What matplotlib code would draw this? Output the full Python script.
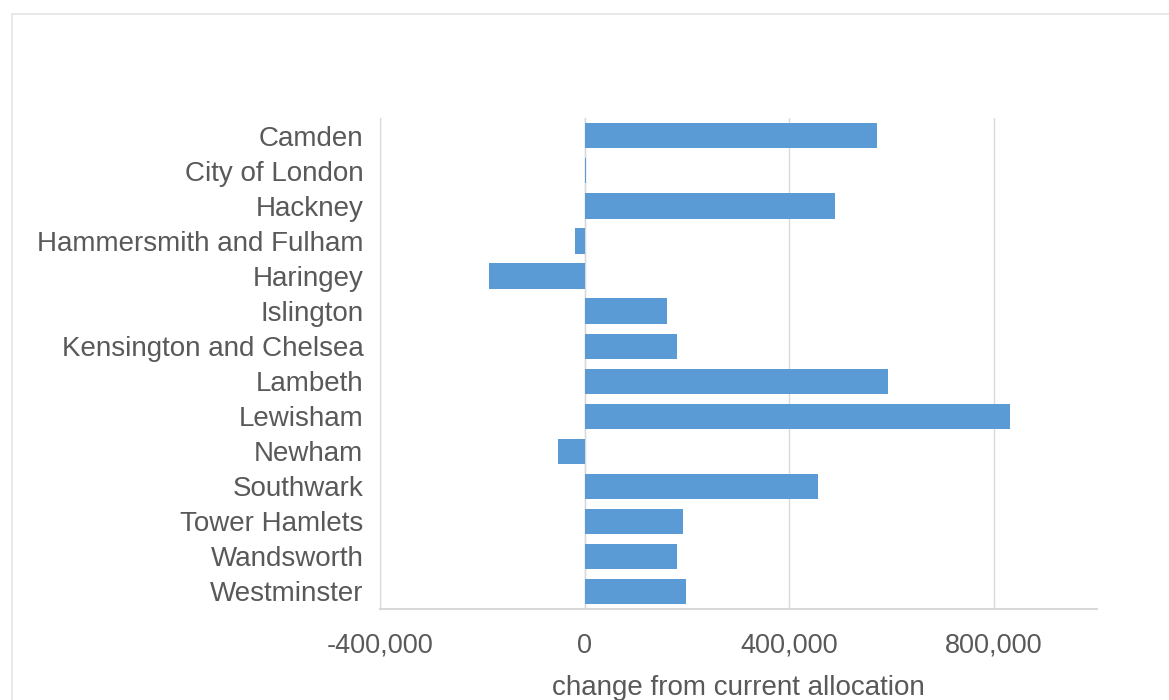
import numpy as np
import matplotlib
matplotlib.use('Agg')
import matplotlib.pyplot as plt
from matplotlib.patches import Rectangle
from matplotlib.ticker import FuncFormatter

# data
boroughs = ['Camden', 'City of London', 'Hackney', 'Hammersmith and Fulham',
            'Haringey', 'Islington', 'Kensington and Chelsea', 'Lambeth',
            'Lewisham', 'Newham', 'Southwark', 'Tower Hamlets', 'Wandsworth',
            'Westminster']
change = [572000, 2000, 490000, -19000, -187000, 161000, 180000, 593000,
          831000, -53000, 455000, 193000, 180000, 197000]

plt.rcParams['font.family'] = ['Liberation Sans', 'DejaVu Sans']
text_color = '#595959'

fig = plt.figure(figsize=(11.69, 7.0), dpi=100)
ax = fig.add_axes([0.325, 0.13, 0.613, 0.701])

# outer frame of the chart area
fig.patches.append(Rectangle((12/1169, -0.1), 1.2, 1 - 14/700 + 0.1,
                             transform=fig.transFigure, fill=False,
                             edgecolor='#e4e4e4', linewidth=1.2))

y = np.arange(len(boroughs))
ax.barh(y, change, height=0.72, color='#5b9bd5', zorder=3)

ax.set_xlim(-400000, 1000000)
ax.set_ylim(len(boroughs) - 0.5, -0.5)
ax.set_xticks([-400000, 0, 400000, 800000])
ax.xaxis.set_major_formatter(FuncFormatter(lambda v, p: '{:,.0f}'.format(v)))
ax.set_yticks(y)
ax.set_yticklabels(boroughs)

ax.grid(axis='x', color='#d9d9d9', linewidth=1, zorder=0)
ax.axvline(0, color='#d9d9d9', linewidth=1, zorder=1)

for s in ['top', 'right']:
    ax.spines[s].set_visible(False)
ax.spines['left'].set_color('#d9d9d9')
ax.spines['bottom'].set_color('#d9d9d9')
ax.spines['bottom'].set_linewidth(1.5)

ax.tick_params(axis='both', length=0, colors=text_color)
ax.tick_params(axis='y', pad=12, labelsize=20)
ax.tick_params(axis='x', pad=17, labelsize=19.5)
ax.set_xlabel('change from current allocation', fontsize=20, color=text_color, labelpad=12)

plt.savefig('out.png', dpi=100)
